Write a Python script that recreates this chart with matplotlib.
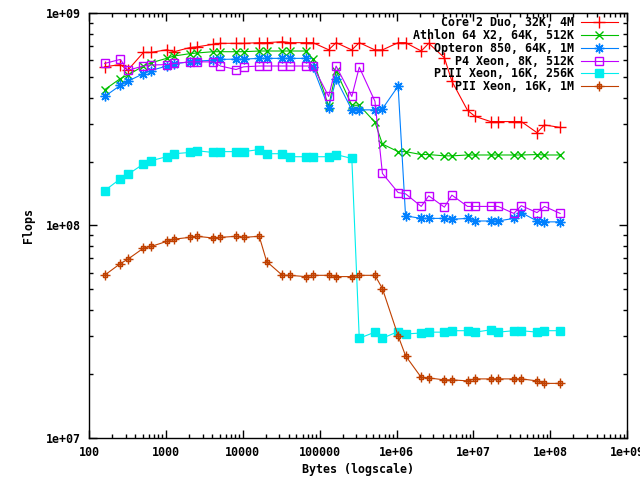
import matplotlib
matplotlib.use('Agg')
import matplotlib.pyplot as plt
from matplotlib.path import Path
from matplotlib.ticker import LogLocator, FixedLocator, FixedFormatter, NullFormatter

###########
#  DATA   #
###########

# message sizes in bytes (same for every machine)
sizes = [160, 256, 320, 512, 640, 1024, 1280, 2048, 2560, 4096, 5120,
         8192, 10240, 16384, 20480, 32768, 40960, 65536, 81920, 131072,
         163840, 262144, 327680, 524288, 655360, 1048576, 1310720,
         2097152, 2621440, 4194304, 5242880, 8388608, 10485760, 16777216,
         20971520, 33554432, 41943040, 67108864, 83886080, 134217728]

core2 = [5.6e8, 5.74e8, 5.4e8, 6.55e8, 6.55e8, 6.74e8, 6.6e8, 6.9e8, 6.96e8,
         7.15e8, 7.23e8, 7.23e8, 7.23e8, 7.28e8, 7.28e8, 7.36e8, 7.28e8,
         7.28e8, 7.28e8, 6.74e8, 7.28e8, 6.73e8, 7.28e8, 6.73e8, 6.73e8,
         7.28e8, 7.28e8, 6.65e8, 7.23e8, 6.18e8, 4.79e8, 3.49e8, 3.27e8,
         3.09e8, 3.09e8, 3.09e8, 3.09e8, 2.74e8, 2.98e8, 2.9e8]

athlon = [4.37e8, 4.93e8, 5.12e8, 5.65e8, 5.85e8, 6.14e8, 6.3e8, 6.46e8,
          6.51e8, 6.6e8, 6.6e8, 6.6e8, 6.6e8, 6.65e8, 6.65e8, 6.65e8, 6.65e8,
          6.65e8, 6.07e8, 3.65e8, 5.35e8, 3.69e8, 3.69e8, 3.07e8, 2.42e8,
          2.23e8, 2.23e8, 2.16e8, 2.16e8, 2.13e8, 2.13e8, 2.15e8, 2.15e8,
          2.15e8, 2.15e8, 2.15e8, 2.15e8, 2.16e8, 2.15e8, 2.15e8]

opteron = [4.06e8, 4.58e8, 4.79e8, 5.2e8, 5.38e8, 5.65e8, 5.79e8, 5.91e8,
           5.96e8, 6.02e8, 6.07e8, 6.09e8, 6.09e8, 6.14e8, 6.14e8, 6.14e8,
           6.14e8, 6.14e8, 5.58e8, 3.58e8, 4.91e8, 3.51e8, 3.51e8, 3.51e8,
           3.55e8, 4.54e8, 1.11e8, 1.08e8, 1.08e8, 1.08e8, 1.07e8, 1.08e8,
           1.05e8, 1.05e8, 1.05e8, 1.08e8, 1.15e8, 1.05e8, 1.04e8, 1.04e8]

p4 = [5.81e8, 6.07e8, 5.4e8, 5.65e8, 5.71e8, 5.74e8, 5.81e8, 5.91e8, 5.91e8,
      5.91e8, 5.65e8, 5.44e8, 5.6e8, 5.65e8, 5.65e8, 5.65e8, 5.65e8, 5.65e8,
      5.65e8, 4.06e8, 5.65e8, 4.06e8, 5.58e8, 3.85e8, 1.76e8, 1.43e8, 1.41e8,
      1.23e8, 1.38e8, 1.22e8, 1.39e8, 1.23e8, 1.23e8, 1.23e8, 1.23e8,
      1.14e8, 1.24e8, 1.15e8, 1.23e8, 1.14e8]

piii = [1.46e8, 1.66e8, 1.74e8, 1.95e8, 2.02e8, 2.11e8, 2.18e8, 2.21e8,
        2.25e8, 2.21e8, 2.23e8, 2.23e8, 2.23e8, 2.28e8, 2.18e8, 2.18e8,
        2.11e8, 2.11e8, 2.11e8, 2.11e8, 2.16e8, 2.07e8, 2.94e7, 3.14e7,
        2.94e7, 3.16e7, 3.08e7, 3.11e7, 3.14e7, 3.14e7, 3.19e7, 3.19e7,
        3.14e7, 3.22e7, 3.14e7, 3.19e7, 3.19e7, 3.14e7, 3.19e7, 3.19e7]

pii = [5.83e7, 6.61e7, 6.93e7, 7.82e7, 7.96e7, 8.41e7, 8.62e7, 8.79e7,
       8.89e7, 8.73e7, 8.79e7, 8.89e7, 8.79e7, 8.89e7, 6.76e7, 5.82e7,
       5.82e7, 5.74e7, 5.82e7, 5.82e7, 5.74e7, 5.74e7, 5.82e7, 5.82e7,
       5.04e7, 3.02e7, 2.43e7, 1.92e7, 1.91e7, 1.87e7, 1.87e7, 1.85e7,
       1.89e7, 1.89e7, 1.89e7, 1.89e7, 1.89e7, 1.85e7, 1.8e7, 1.8e7]

labels = ['Core 2 Duo, 32K, 4M', 'Athlon 64 X2, 64K, 512K',
          'Opteron 850, 64K, 1M', 'P4 Xeon, 8K, 512K',
          'PIII Xeon, 16K, 256K', 'PII Xeon, 16K, 1M']

xtick_vals = [1e2, 1e3, 1e4, 1e5, 1e6, 1e7, 1e8, 1e9]
xtick_labels = ['100', '1000', '10000', '100000', '1e+06', '1e+07', '1e+08', '1e+09']
ytick_vals = [1e7, 1e8, 1e9]
ytick_labels = ['1e+07', '1e+08', '1e+09']

###########
# STYLE   #
###########

FONT = {'family': 'DejaVu Sans Mono', 'weight': 'bold', 'size': 8.4}
plt.rcParams['font.family'] = 'DejaVu Sans Mono'
plt.rcParams['font.weight'] = 'bold'
plt.rcParams['font.size'] = 8.4

# square with a cross through it (gnuplot style point)
sq_cross = Path(
    [(-0.5, -0.5), (0.5, -0.5), (0.5, 0.5), (-0.5, 0.5), (-0.5, -0.5),
     (0, -1), (0, 1), (-1, 0), (1, 0)],
    [Path.MOVETO, Path.LINETO, Path.LINETO, Path.LINETO, Path.CLOSEPOLY,
     Path.MOVETO, Path.LINETO, Path.MOVETO, Path.LINETO])

series = [
    (core2, '#ff0000', dict(marker='+', markersize=9)),
    (athlon, '#00c000', dict(marker='x', markersize=6)),
    (opteron, '#0080ff', dict(marker=(8, 2, 0), markersize=7)),
    (p4, '#c000ff', dict(marker='s', markersize=6, markerfacecolor='none')),
    (piii, '#00eeee', dict(marker='s', markersize=6)),
    (pii, '#c04000', dict(marker=sq_cross, markersize=7, markerfacecolor='none')),
]

###########
#  PLOT   #
###########

fig = plt.figure(figsize=(6.4, 4.8), dpi=100)
ax = fig.add_axes([0.139, 0.0885, 0.841, 0.8835])

for (vals, col, mk), lab in zip(series, labels):
    ax.plot(sizes, vals, color=col, linewidth=0.8, markeredgewidth=1.0,
            label=lab, **mk)

ax.set_xscale('log')
ax.set_yscale('log')
ax.set_xlim(1e2, 1e9)
ax.set_ylim(1e7, 1e9)

ax.xaxis.set_major_locator(FixedLocator(xtick_vals))
ax.xaxis.set_major_formatter(FixedFormatter(xtick_labels))
ax.yaxis.set_major_locator(FixedLocator(ytick_vals))
ax.yaxis.set_major_formatter(FixedFormatter(ytick_labels))
ax.xaxis.set_minor_locator(LogLocator(base=10, subs=range(2, 10), numticks=20))
ax.yaxis.set_minor_locator(LogLocator(base=10, subs=range(2, 10), numticks=20))
ax.xaxis.set_minor_formatter(NullFormatter())
ax.yaxis.set_minor_formatter(NullFormatter())

ax.tick_params(which='both', direction='in', top=True, right=True,
               width=1, color='black', labelsize=8.4)
ax.tick_params(which='major', length=6, pad=6)
ax.tick_params(which='minor', length=3)
for s in ax.spines.values():
    s.set_linewidth(1)

ax.set_xlabel('Bytes (logscale)', fontdict=FONT, labelpad=3)
ax.set_ylabel('Flops', fontdict=FONT, labelpad=8)

ax.legend(loc='upper right', bbox_to_anchor=(0.983, 0.993), markerfirst=False,
          frameon=False, handlelength=3.2, handletextpad=0.6, labelspacing=-0.02,
          borderpad=0, borderaxespad=0, prop=FONT)

fig.savefig('out.png', dpi=100)
